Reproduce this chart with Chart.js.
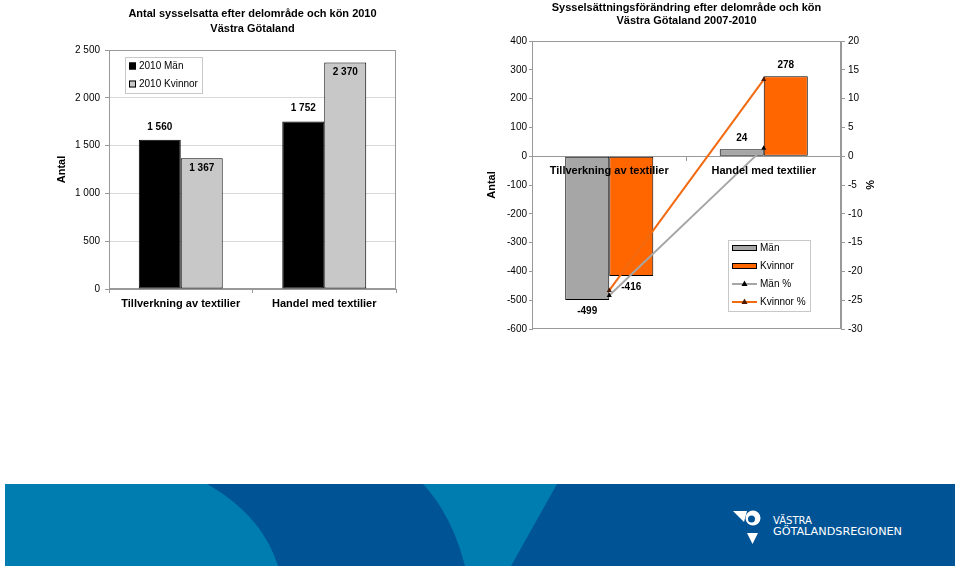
<!DOCTYPE html>
<html>
<head>
<meta charset="utf-8">
<script src="https://cdn.jsdelivr.net/npm/chart.js@4.4.1/dist/chart.umd.min.js"></script>
<style>
  body { margin: 0; background: #fff; width: 960px; height: 569px; overflow: hidden; position: relative; }
  canvas { position: absolute; top: 0; }
  #left { left: 0; }
  #right { left: 480px; }
  svg { position: absolute; left: 0; top: 0; }
</style>
</head>
<body>
<canvas id="left" width="480" height="330"></canvas>
<canvas id="right" width="480" height="345"></canvas>

<svg width="960" height="569" viewBox="0 0 960 569">
  <rect x="5" y="484" width="950" height="82" fill="#005496"/>
  <path d="M5 484 H207 Q262 515 278 566 H5 Z" fill="#007db0"/>
  <path d="M423 484 H557 L511 566 H465 Q452 515 423 484 Z" fill="#007db0"/>
  <g fill="#fff">
    <path d="M733 511 L747 511 L744 522 Z"/>
    <circle cx="753" cy="518" r="7.5"/>
    <circle cx="751.5" cy="519" r="3.5" fill="#005496"/>
    <path d="M747 533 L758 533 L752.5 544 Z"/>
    <text x="773" y="523.5" font-family="DejaVu Sans Condensed, sans-serif" font-size="10.5" textLength="39" lengthAdjust="spacingAndGlyphs">VÄSTRA</text>
    <text x="773" y="535" font-family="DejaVu Sans Condensed, sans-serif" font-size="10.5" textLength="129" lengthAdjust="spacingAndGlyphs">GÖTALANDSREGIONEN</text>
  </g>
</svg>

<script>
// data
const categories = ['Tillverkning av textilier', 'Handel med textilier'];
const men2010 = [1560, 1752];
const women2010 = [1367, 2370];
const menChange = [-499, 24];
const womenChange = [-416, 278];
const menChangePct = [-24.2, 1.4];
const womenChangePct = [-23.3, 13.3];

const titleLeft = ['Antal sysselsatta efter delområde och kön 2010', 'Västra Götaland'];
const titleRight = ['Sysselsättningsförändring efter delområde och kön', 'Västra Götaland 2007-2010'];

Chart.defaults.font.family = '"Liberation Sans", Arial, sans-serif';
Chart.defaults.color = '#000';

function fmt(v) {
  return String(v).replace(/\B(?=(\d{3})+(?!\d))/g, ' ');
}

// grey box round the plot area
const frame = {
  id: 'frame',
  beforeDatasetsDraw(chart, args, o) {
    const { left, top, width, height } = chart.chartArea;
    const ctx = chart.ctx;
    ctx.save();
    ctx.strokeStyle = o.color || '#999';
    ctx.lineWidth = 1;
    ctx.strokeRect(Math.round(left) + 0.5, Math.round(top) + 0.5, Math.round(width) - 1, Math.round(height) - 1);
    ctx.restore();
  }
};

// numbers on the bars
const valueLabels = {
  id: 'valueLabels',
  afterDatasetsDraw(chart, args, o) {
    const ctx = chart.ctx;
    ctx.save();
    ctx.font = 'bold 10px "Liberation Sans", Arial, sans-serif';
    ctx.fillStyle = '#000';
    ctx.textAlign = 'center';
    ctx.textBaseline = 'middle';
    chart.data.datasets.forEach((ds, i) => {
      const meta = chart.getDatasetMeta(i);
      if (meta.type !== 'bar') return;
      const gap = o.gap[i];
      const inside = o.inside[i];
      meta.data.forEach((el, j) => {
        const v = ds.data[j];
        let dir = v >= 0 ? -1 : 1;
        if (inside) dir = -dir;
        ctx.fillText(fmt(v), el.x, el.y + dir * gap);
      });
    });
    ctx.restore();
  }
};

// legend in a box, drawn from the datasets
const boxLegend = {
  id: 'boxLegend',
  afterDraw(chart, args, o) {
    const ctx = chart.ctx;
    ctx.save();
    ctx.fillStyle = '#fff';
    ctx.fillRect(o.left, o.top, o.width, o.height);
    ctx.strokeStyle = '#c8c8c8';
    ctx.lineWidth = 1;
    ctx.strokeRect(o.left + 0.5, o.top + 0.5, o.width, o.height);
    ctx.font = '10px "Liberation Sans", Arial, sans-serif';
    ctx.textBaseline = 'middle';
    chart.data.datasets.forEach((ds, i) => {
      const y = Math.round(o.top + o.first + i * o.row);
      const x = o.left + o.pad;
      if (ds.type === 'line') {
        ctx.strokeStyle = ds.borderColor;
        ctx.lineWidth = 2;
        ctx.beginPath();
        ctx.moveTo(x, y);
        ctx.lineTo(x + o.swatchW, y);
        ctx.stroke();
        const cx = x + o.swatchW / 2;
        ctx.fillStyle = ds.pointBackgroundColor;
        ctx.beginPath();
        ctx.moveTo(cx, y - 3.5);
        ctx.lineTo(cx + 3, y + 2);
        ctx.lineTo(cx - 3, y + 2);
        ctx.closePath();
        ctx.fill();
      } else {
        ctx.fillStyle = ds.backgroundColor;
        ctx.fillRect(x, y - o.swatchH / 2, o.swatchW, o.swatchH);
        ctx.strokeStyle = '#000';
        ctx.lineWidth = 1;
        ctx.strokeRect(x + 0.5, y - o.swatchH / 2 + 0.5, o.swatchW - 1, o.swatchH - 1);
      }
      ctx.fillStyle = '#000';
      ctx.fillText(ds.label, x + o.swatchW + o.gap, y);
    });
    ctx.restore();
  }
};

new Chart(document.getElementById('left'), {
  type: 'bar',
  data: {
    labels: categories,
    datasets: [
      { label: '2010 Män', data: men2010, backgroundColor: '#000000', borderColor: '#000', borderWidth: 1 },
      { label: '2010 Kvinnor', data: women2010, backgroundColor: '#c8c8c8', borderColor: '#000', borderWidth: 1 }
    ]
  },
  options: {
    responsive: false,
    animation: false,
    layout: { padding: { left: 50, right: 84, top: 0, bottom: 11 } },
    datasets: { bar: { categoryPercentage: 0.585, barPercentage: 1, borderSkipped: false } },
    plugins: {
      legend: { display: false },
      tooltip: { enabled: false },
      title: {
        display: true, text: titleLeft, color: '#000', fullSize: false,
        font: { size: 11, weight: 'bold', lineHeight: 15 / 11 },
        padding: { top: 6, bottom: 14 }
      },
      frame: { color: '#999' },
      valueLabels: { gap: [13, 10], inside: [false, true] },
      boxLegend: { left: 125, top: 57, width: 77, height: 36, first: 9, row: 18, pad: 4, swatchW: 7, swatchH: 7, gap: 3 }
    },
    scales: {
      x: {
        grid: { drawOnChartArea: false, offset: true, tickLength: 4, color: '#999' },
        border: { color: '#999' },
        ticks: { font: { size: 11, weight: 'bold' }, padding: 4, maxRotation: 0 },
        afterFit: s => { s.height = 30; }
      },
      y: {
        min: 0, max: 2500,
        ticks: { stepSize: 500, callback: v => fmt(v), font: { size: 10 }, padding: 5 },
        grid: { color: '#d9d9d9', tickLength: 4, tickColor: '#999' },
        border: { color: '#999' },
        title: { display: true, text: 'Antal', font: { size: 11, weight: 'bold' }, padding: { top: 5, bottom: 0 } },
        afterFit: s => { s.width = 59; }
      }
    }
  },
  plugins: [frame, valueLabels, boxLegend]
});

new Chart(document.getElementById('right'), {
  type: 'bar',
  data: {
    labels: categories,
    datasets: [
      { label: 'Män', data: menChange, backgroundColor: '#a6a6a6', borderColor: '#000', borderWidth: 1, order: 2 },
      { label: 'Kvinnor', data: womenChange, backgroundColor: '#ff6600', borderColor: '#000', borderWidth: 1, order: 2 },
      {
        type: 'line', label: 'Män %', data: menChangePct, yAxisID: 'y1', order: 1,
        borderColor: '#a6a6a6', borderWidth: 2, tension: 0,
        pointStyle: 'triangle', pointRadius: 3, pointBackgroundColor: '#000', pointBorderColor: '#000', pointBorderWidth: 0
      },
      {
        type: 'line', label: 'Kvinnor %', data: womenChangePct, yAxisID: 'y1', order: 0,
        borderColor: '#f26a10', borderWidth: 2, tension: 0,
        pointStyle: 'triangle', pointRadius: 3, pointBackgroundColor: '#4a1a00', pointBorderColor: '#4a1a00', pointBorderWidth: 0
      }
    ]
  },
  options: {
    responsive: false,
    animation: false,
    layout: { padding: { left: 0, right: 79, top: 0, bottom: 16 } },
    datasets: { bar: { categoryPercentage: 0.57, barPercentage: 1, borderSkipped: false } },
    plugins: {
      legend: { display: false },
      tooltip: { enabled: false },
      title: {
        display: true, text: titleRight, color: '#000', fullSize: false,
        font: { size: 11, weight: 'bold', lineHeight: 13.5 / 11 },
        padding: { top: 1, bottom: 13 }
      },
      frame: { color: '#999' },
      valueLabels: { gap: [11, 11], inside: [false, false] },
      boxLegend: { left: 248, top: 240, width: 82, height: 71, first: 8, row: 18, pad: 4, swatchW: 25, swatchH: 6, gap: 3 }
    },
    scales: {
      x: {
        position: { y: 0 },
        grid: { drawOnChartArea: false, offset: true, tickLength: 4, color: '#999' },
        border: { color: '#999' },
        ticks: { font: { size: 11, weight: 'bold' }, padding: 4, maxRotation: 0, z: 1 }
      },
      y: {
        min: -600, max: 400,
        ticks: { stepSize: 100, callback: v => fmt(v), font: { size: 10 }, padding: 2 },
        grid: { drawOnChartArea: false, tickLength: 3, color: '#999' },
        border: { color: '#999' },
        title: { display: true, text: 'Antal', font: { size: 11, weight: 'bold' }, padding: { top: 5, bottom: 0 } },
        afterFit: s => { s.width = 52; }
      },
      y1: {
        position: 'right',
        min: -30, max: 20,
        ticks: { stepSize: 5, font: { size: 10 }, padding: 3 },
        grid: { drawOnChartArea: false, tickLength: 4, color: '#999' },
        border: { color: '#999' },
        title: { display: true, text: '%', font: { size: 11, weight: 'bold' }, padding: { top: 5, bottom: 0 } },
        afterFit: s => { s.width = 40; }
      }
    }
  },
  plugins: [frame, valueLabels, boxLegend]
});
</script>
</body>
</html>
